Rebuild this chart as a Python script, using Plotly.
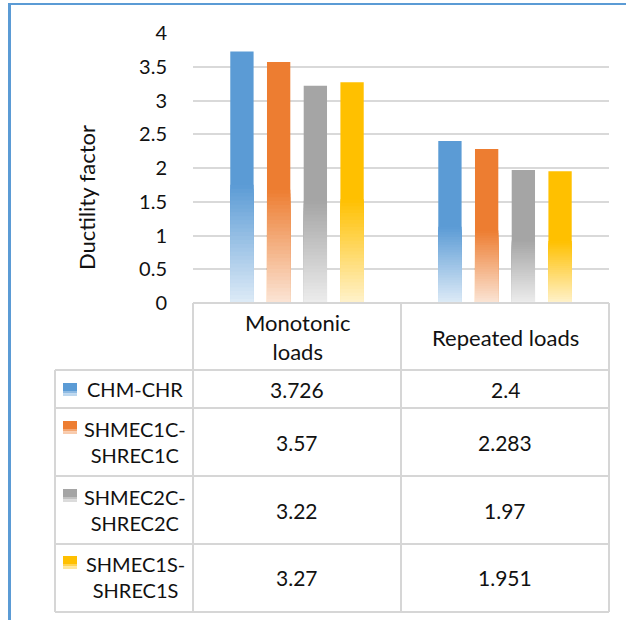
import plotly.graph_objects as go

# ---------------- data ----------------
categories = ["Monotonic loads", "Repeated loads"]
header_labels = ["Monotonic<br>loads", "Repeated loads"]
series_names = ["CHM-CHR", "SHMEC1C-SHREC1C", "SHMEC2C-SHREC2C", "SHMEC1S-SHREC1S"]
series_labels = ["CHM-CHR", "SHMEC1C-<br>SHREC1C", "SHMEC2C-<br>SHREC2C", "SHMEC1S-<br>SHREC1S"]
chm_chr = [3.726, 2.4]
shmec1c = [3.57, 2.283]
shmec2c = [3.22, 1.97]
shmec1s = [3.27, 1.951]
series_values = [chm_chr, shmec1c, shmec2c, shmec1s]
y_ticks = [0, 0.5, 1, 1.5, 2, 2.5, 3, 3.5, 4]

# ---------------- styles ----------------
solid = [(91, 155, 213), (237, 125, 49), (165, 165, 165), (255, 192, 0)]
light = [(222, 235, 247), (251, 229, 214), (237, 237, 237), (255, 242, 204)]
FONT = "Lato"
TXT = "#111111"
W, H = 626, 620
L, R, T, B = 193, 609, 33, 303  # plot area in pixels


def rgb(c):
    return "rgb(%d,%d,%d)" % tuple(int(round(v)) for v in c)


def mix(a, b, t):
    return tuple(a[i] + (b[i] - a[i]) * t for i in range(3))


def px(x):
    return (x - L) / (R - L)


def py(y):
    return (B - y) / (B - T)


fig = go.Figure()

SOLID_FRAC = 0.47
N = 30
for s, (name, vals) in enumerate(zip(series_names, series_values)):
    fig.add_trace(go.Bar(x=categories, y=vals, name=name, offsetgroup=str(s),
                         marker=dict(color=rgb(solid[s]), line=dict(width=0)),
                         showlegend=False))
    for k in range(N):
        top = SOLID_FRAC * (1 - k / N)
        mid = SOLID_FRAC * (1 - (k + 0.5) / N)
        col = mix(light[s], solid[s], mid / SOLID_FRAC)
        fig.add_trace(go.Bar(x=categories, y=[v * top for v in vals], offsetgroup=str(s),
                             marker=dict(color=rgb(col), line=dict(width=0)),
                             showlegend=False, hoverinfo="skip"))

shapes = []
ann = []
LINE = dict(color="#D6D6D6", width=2)

# table grid
row_y = [370, 408, 476, 544, 612]
shapes.append(dict(type="line", xref="paper", yref="paper", x0=px(L), x1=px(R), y0=py(B), y1=py(B), line=LINE))
for yy in row_y:
    shapes.append(dict(type="line", xref="paper", yref="paper", x0=px(55), x1=px(R), y0=py(yy), y1=py(yy), line=LINE))
for xx in [L, 401, R]:
    shapes.append(dict(type="line", xref="paper", yref="paper", x0=px(xx), x1=px(xx), y0=py(B), y1=py(612), line=LINE))
shapes.append(dict(type="line", xref="paper", yref="paper", x0=px(55), x1=px(55), y0=py(370), y1=py(612), line=LINE))

# blue frame
shapes.append(dict(type="line", xref="paper", yref="paper", x0=px(8), x1=px(W + 2), y0=py(4), y1=py(4),
                   line=dict(color="#5B9BD5", width=2)))
shapes.append(dict(type="line", xref="paper", yref="paper", x0=px(9.5), x1=px(9.5), y0=py(3), y1=py(H + 2),
                   line=dict(color="#5B9BD5", width=3)))

# header
for i, lab in enumerate(header_labels):
    ann.append(dict(x=categories[i], xref="x", y=py(337), yref="paper", text=lab, showarrow=False,
                    xanchor="center", yanchor="middle",
                    font=dict(family=FONT, size=22, color=TXT), align="center"))

row_centers = [389, 442, 510, 577]
key_tops = [383, 421, 489, 556]
for s in range(4):
    # legend key (small gradient square)
    kt = key_tops[s]
    shapes.append(dict(type="rect", xref="paper", yref="paper", x0=px(63), x1=px(77), y0=py(kt), y1=py(kt + 8),
                       fillcolor=rgb(solid[s]), line=dict(width=0)))
    shapes.append(dict(type="rect", xref="paper", yref="paper", x0=px(63), x1=px(77), y0=py(kt + 8), y1=py(kt + 10.5),
                       fillcolor=rgb(mix(light[s], solid[s], 0.6)), line=dict(width=0)))
    shapes.append(dict(type="rect", xref="paper", yref="paper", x0=px(63), x1=px(77), y0=py(kt + 10.5), y1=py(kt + 13),
                       fillcolor=rgb(mix(light[s], solid[s], 0.25)), line=dict(width=0)))
    ann.append(dict(x=px(135), xref="paper", y=py(row_centers[s]), yref="paper", text=series_labels[s],
                    xanchor="center", yanchor="middle",
                    showarrow=False, font=dict(family=FONT, size=20, color=TXT), align="center"))
    for i in range(2):
        ann.append(dict(x=categories[i], xref="x", y=py(row_centers[s]), yref="paper",
                        xanchor="center", yanchor="middle",
                        text=str(series_values[s][i]), showarrow=False,
                        font=dict(family=FONT, size=21, color=TXT)))

# axis title
ann.append(dict(x=px(86), xref="paper", y=py(198), yref="paper", text="Ductility factor", textangle=-90,
                xanchor="center", yanchor="middle",
                showarrow=False, font=dict(family=FONT, size=22, color=TXT)))

fig.update_layout(
    width=W, height=H,
    margin=dict(l=L, r=W - R, t=T, b=H - B),
    paper_bgcolor="white", plot_bgcolor="white",
    barmode="group", bargap=0.294, bargroupgap=0.365,
    shapes=shapes, annotations=ann,
    showlegend=False,
)
fig.update_xaxes(range=[-0.5, 1.5], showticklabels=False, showgrid=False, zeroline=False, showline=False)
fig.update_yaxes(range=[0, 4], tickvals=y_ticks, ticktext=[("%g" % v) for v in y_ticks],
                 showgrid=True, gridcolor="#D9D9D9", gridwidth=1.5, zeroline=False, showline=False,
                 ticks="outside", ticklen=21, tickcolor="rgba(0,0,0,0)",
                 tickfont=dict(family=FONT, size=20, color=TXT))

fig.write_html("out.html", config={"displayModeBar": False},
               post_script="document.body.style.margin='0';document.body.style.overflow='hidden';")
